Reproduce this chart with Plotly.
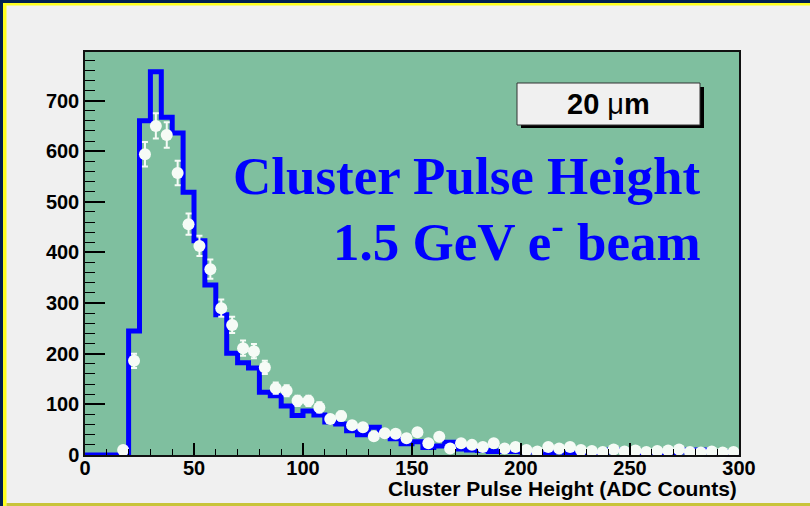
import plotly.graph_objects as go

# ---------------- data ----------------
# simulated histogram (blue step line), 5-ADC bins from 0 to 300
bin_edges = list(range(0, 305, 5))
sim_counts = [0, 0, 0, 0, 245, 660, 757, 667, 636, 519,
              423, 336, 277, 201, 182, 172, 124, 117, 97, 78,
              87, 79, 65, 61, 48, 40, 55, 40, 32, 22,
              26, 15, 18, 25, 12, 10, 9, 7, 8, 7,
              6, 7, 5, 6, 5, 6, 5, 6, 10, 10,
              6, 5, 6, 5, 6, 10, 10, 6, 5, 6]

# measured data points (white markers)
data_x = [17.5, 22.5, 27.5, 32.5, 37.5, 42.5, 47.5, 52.5, 57.5, 62.5,
          67.5, 72.5, 77.5, 82.5, 87.5, 92.5, 97.5, 102.5, 107.5, 112.5,
          117.5, 122.5, 127.5, 132.5, 137.5, 142.5, 147.5, 152.5, 157.5, 162.5,
          167.5, 172.5, 177.5, 182.5, 187.5, 192.5, 197.5, 202.5, 207.5, 212.5,
          217.5, 222.5, 227.5, 232.5, 237.5, 242.5, 247.5, 252.5, 257.5, 262.5,
          267.5, 272.5, 277.5, 282.5, 287.5, 292.5, 297.5]
data_y = [10, 186, 594, 650, 632, 557, 456, 413, 367, 290,
          257, 211, 205, 173, 132, 127, 107, 107, 94, 71,
          77, 59, 55, 37, 43, 42, 33, 45, 23, 36,
          13, 23, 20, 16, 23, 13, 16, 10, 7, 16,
          13, 16, 10, 8, 6, 11, 7, 9, 6, 8,
          9, 11, 6, 5, 7, 5, 6]
data_err = [3, 14, 24, 25, 25, 24, 21, 20, 19, 17,
            16, 15, 14, 13, 11, 11, 10, 10, 10, 8,
            9, 8, 7, 6, 7, 6, 6, 7, 5, 6,
            4, 5, 4, 4, 5, 4, 4, 3, 3, 4,
            4, 4, 3, 3, 2, 3, 3, 3, 2, 3,
            3, 3, 2, 2, 3, 2, 2]

y_ticks = [0, 100, 200, 300, 400, 500, 600, 700]
x_ticks = [0, 50, 100, 150, 200, 250, 300]

title_line1 = "Cluster Pulse Height"
title_line2 = "1.5 GeV e<sup>-</sup> beam"
label_text = "20 <span style='font-weight:normal'>\u03bc</span>m"
x_title = "Cluster Pulse Height (ADC Counts)"

# ---------------- layout geometry (pixels) ----------------
W, H = 810, 506
L, R, T, B = 85, 739, 52, 455


def px(xp):
    return (xp - L) / (R - L)


def py(yp):
    return (B - yp) / (B - T)


step_x = bin_edges
step_y = sim_counts + [sim_counts[-1]]

fig = go.Figure()
fig.add_trace(go.Scatter(
    x=step_x, y=step_y, mode="lines", line=dict(color="#0000ff", width=5, shape="hv"),
    cliponaxis=False, showlegend=False, hoverinfo="skip"))
fig.add_trace(go.Scatter(
    x=data_x, y=data_y, mode="markers",
    marker=dict(color="#f6fbf6", size=12, line=dict(width=0)),
    error_y=dict(type="data", array=data_err, color="#f6fbf6", thickness=2, width=3),
    cliponaxis=False, showlegend=False))

axis_font = dict(family="Liberation Sans, Arial", size=20, color="black", weight="bold")

fig.update_layout(
    width=W, height=H,
    margin=dict(l=L, r=W - R, t=T, b=H - B, pad=0, autoexpand=False),
    paper_bgcolor="#f0f0f0", plot_bgcolor="#7fbf9f",
    xaxis=dict(range=[0, 300], tickvals=x_ticks, ticks="inside", ticklen=12, tickwidth=1.5,
               tickcolor="black", showgrid=False, zeroline=False, showline=True,
               linecolor="#111", linewidth=1.5, mirror=True, tickfont=axis_font,
               ticklabelstandoff=-6, automargin=False,
               minor=dict(ticks="inside", ticklen=6, dtick=10, tickcolor="black", tickwidth=1.2,
                          showgrid=False)),
    yaxis=dict(range=[0, 796], tickvals=y_ticks, ticks="inside", ticklen=20, tickwidth=1.5,
               tickcolor="black", showgrid=False, zeroline=False, showline=True,
               linecolor="#111", linewidth=1.5, mirror=True, tickfont=axis_font,
               automargin=False,
               minor=dict(ticks="inside", ticklen=10, dtick=20, tickcolor="black", tickwidth=1.2,
                          showgrid=False)),
)

shapes = []
# outer frame decorations
shapes.append(dict(type="rect", xref="paper", yref="paper", x0=px(0), x1=px(W), y0=py(-1), y1=py(3),
                   fillcolor="#002050", line=dict(width=0), layer="above"))
shapes.append(dict(type="rect", xref="paper", yref="paper", x0=px(3), x1=px(W + 1), y0=py(3), y1=py(5.5),
                   fillcolor="#ffff20", line=dict(width=0), layer="above"))
shapes.append(dict(type="rect", xref="paper", yref="paper", x0=px(-1), x1=px(3), y0=py(-1), y1=py(H + 1),
                   fillcolor="#002050", line=dict(width=0), layer="above"))
shapes.append(dict(type="rect", xref="paper", yref="paper", x0=px(3), x1=px(6.5), y0=py(3), y1=py(H + 1),
                   fillcolor="#ffff20", line=dict(width=0), layer="above"))
shapes.append(dict(type="rect", xref="paper", yref="paper", x0=px(6.5), x1=px(W + 1), y0=py(503), y1=py(H + 1),
                   fillcolor="#c8c43a", line=dict(width=0), layer="above"))
# label box with shadow
shapes.append(dict(type="rect", xref="paper", yref="paper", x0=px(521), x1=px(704), y0=py(128), y1=py(87),
                   fillcolor="black", line=dict(width=0), layer="above"))
shapes.append(dict(type="rect", xref="paper", yref="paper", x0=px(517), x1=px(700), y0=py(125), y1=py(83),
                   fillcolor="#f0f0f0", line=dict(width=1, color="#333"), layer="above"))
fig.update_layout(shapes=shapes)

serif = dict(family="Liberation Serif, Times New Roman", size=53, color="#0000ff", weight="bold")
ann = [
    dict(text=title_line1, x=px(703), y=py(176), xref="paper", yref="paper", xanchor="right",
         yanchor="middle", showarrow=False, font=serif),
    dict(text=title_line2, x=px(703), y=py(238), xref="paper", yref="paper", xanchor="right",
         yanchor="middle", showarrow=False, font=serif),
    dict(text=label_text, x=px(608), y=py(104), xref="paper", yref="paper", xanchor="center",
         yanchor="middle", showarrow=False,
         font=dict(family="Liberation Sans, Arial", size=29, color="black", weight="bold")),
    dict(text=x_title, x=px(739), y=py(488), xref="paper", yref="paper", xanchor="right",
         yanchor="middle", showarrow=False,
         font=dict(family="Liberation Sans, Arial", size=21, color="black", weight="bold")),
]
fig.update_layout(annotations=ann)

fig.write_html("out.html", config={"displayModeBar": False},
               post_script="document.body.style.margin='0';document.body.style.overflow='hidden';")
